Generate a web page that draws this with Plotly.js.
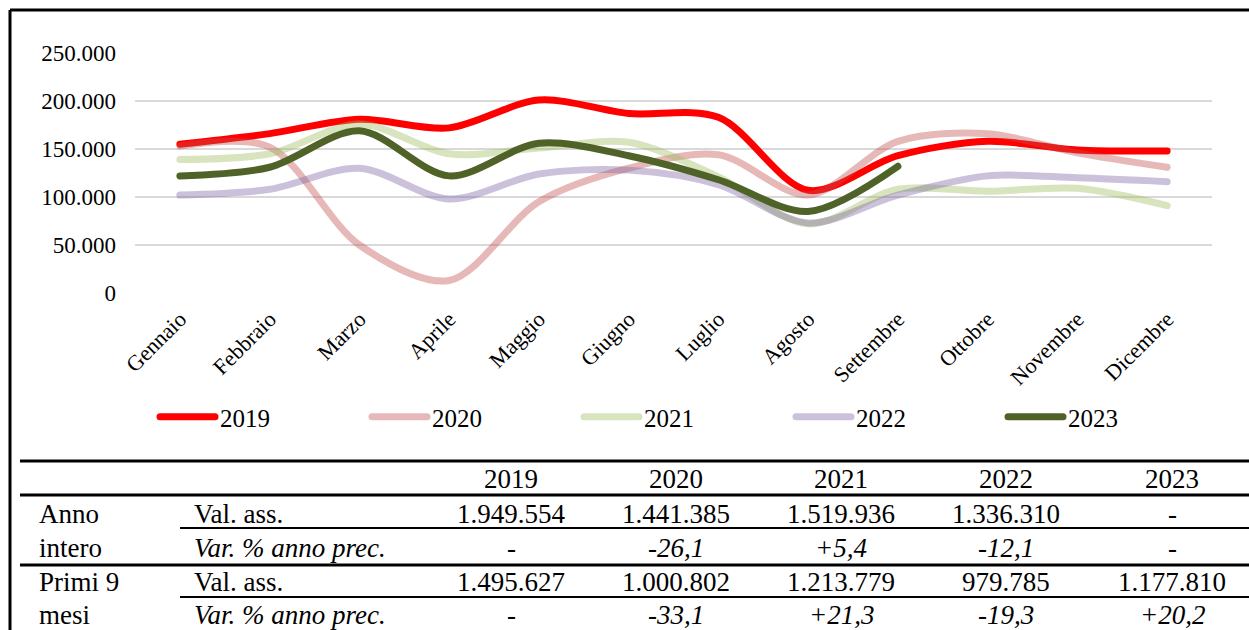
<!DOCTYPE html>
<html><head><meta charset="utf-8">
<script src="https://cdn.plot.ly/plotly-3.0.1.min.js"></script>
<style>
html,body{margin:0;padding:0;background:#fff;}
#chart{width:1249px;height:630px;}
.scatterlayer path.js-line{stroke-linecap:round;stroke-linejoin:round;}
.legendlines path{stroke-linecap:round;}
</style></head><body><div id="chart"></div><script>
// ---- data ----
const months = ['Gennaio','Febbraio','Marzo','Aprile','Maggio','Giugno','Luglio','Agosto','Settembre','Ottobre','Novembre','Dicembre'];
const y2019 = [155000,166000,181000,172000,201000,187000,183000,107000,143000,158000,149000,148000];
const y2020 = [153000,152000,50000,13000,95000,130000,144000,102000,158000,166000,146000,131000];
const y2021 = [139000,145000,176000,145000,151000,157000,121000,72000,108000,106000,109000,91000];
const y2022 = [102000,108000,130000,98000,124000,128000,113000,73000,102000,122000,120000,116000];
const y2023 = [122000,131000,169000,122000,156000,143000,118000,85000,132000];
const seriesNames = ['2019','2020','2021','2022','2023'];
const yTicks = [0,50000,100000,150000,200000,250000];

// table
const tableYears = ['2019','2020','2021','2022','2023'];
const annoValAss = ['1.949.554','1.441.385','1.519.936','1.336.310','-'];
const annoVar = ['-','-26,1','+5,4','-12,1','-'];
const primiValAss = ['1.495.627','1.000.802','1.213.779','979.785','1.177.810'];
const primiVar = ['-','-33,1','+21,3','-19,3','+20,2'];
const groupLabels = [['Anno','intero'],['Primi 9','mesi']];
const rowLabels = ['Val. ass.','Var. % anno prec.'];

// ---- layout helpers (pixel -> paper) ----
const W = 1249, H = 630;
const M = {l:135, r:37, t:53, b:337};
const PW = W - M.l - M.r, PH = H - M.t - M.b;
const px = x => (x - M.l) / PW;
const py = y => (H - M.b - y) / PH;
const FONT = 'Liberation Serif, Times New Roman, serif';

const colors = ['#FF0000','rgba(192,80,77,0.4)','rgba(155,187,89,0.4)','rgba(128,100,162,0.4)','#4F6228'];
const allY = [y2019,y2020,y2021,y2022,y2023];
const traces = allY.map((ys,i)=>({
  type:'scatter', mode:'lines', name:seriesNames[i],
  x: months.slice(0, ys.length), y: ys,
  line:{color:colors[i], width:7, shape:'spline', smoothing:0.9},
  hoverinfo:'x+y+name'
}));

const shapes = [];
const annotations = [];
// outer frame (top + left)
shapes.push({type:'line',xref:'paper',yref:'paper',x0:px(10),x1:px(1252),y0:py(10),y1:py(10),line:{color:'#000',width:3}});
shapes.push({type:'line',xref:'paper',yref:'paper',x0:px(10),x1:px(10),y0:py(10),y1:py(633),line:{color:'#000',width:3}});
// table rules
[461,495,565].forEach(y=>shapes.push({type:'line',xref:'paper',yref:'paper',x0:px(20),x1:px(1252),y0:py(y),y1:py(y),line:{color:'#000',width:3}}));
[528,597].forEach(y=>shapes.push({type:'line',xref:'paper',yref:'paper',x0:px(180),x1:px(1252),y0:py(y),y1:py(y),line:{color:'#000',width:2}}));

const colX = [511,676,841,1006,1172];
const rowY = {head:479, r1:514, r2:548, r3:582, r4:615};
function txt(t, x, y, opt={}){
  annotations.push(Object.assign({text:t, xref:'paper', yref:'paper', x:px(x), y:py(y),
    xanchor:'center', yanchor:'middle', showarrow:false,
    font:{family:FONT, size:27, color:'#000'}}, opt));
}
tableYears.forEach((t,i)=>txt(t, colX[i], rowY.head));
annoValAss.forEach((t,i)=>txt(t, colX[i], rowY.r1));
annoVar.forEach((t,i)=>txt('<i>'+t+'</i>', colX[i], rowY.r2));
primiValAss.forEach((t,i)=>txt(t, colX[i], rowY.r3));
primiVar.forEach((t,i)=>txt('<i>'+t+'</i>', colX[i], rowY.r4));
txt(groupLabels[0][0], 37, rowY.r1, {xanchor:'left'});
txt(groupLabels[0][1], 37, rowY.r2, {xanchor:'left'});
txt(groupLabels[1][0], 37, rowY.r3, {xanchor:'left'});
txt(groupLabels[1][1], 37, rowY.r4, {xanchor:'left'});
txt(rowLabels[0], 192, rowY.r1, {xanchor:'left'});
txt('<i>'+rowLabels[1]+'</i>', 192, rowY.r2, {xanchor:'left'});
txt(rowLabels[0], 192, rowY.r3, {xanchor:'left'});
txt('<i>'+rowLabels[1]+'</i>', 192, rowY.r4, {xanchor:'left'});

const layout = {
  width:W, height:H,
  margin:M,
  paper_bgcolor:'#fff', plot_bgcolor:'#fff',
  separators:',.',
  font:{family:FONT, color:'#000'},
  showlegend:true,
  legend:{orientation:'h', x:px(155), y:py(417), xanchor:'left', yanchor:'middle',
    font:{family:FONT, size:25, color:'#000'}, entrywidth:142, entrywidthmode:'pixels',
    itemwidth:55, tracegroupgap:0, bgcolor:'rgba(0,0,0,0)'},
  xaxis:{type:'category', categoryarray:months, range:[-0.5,11.5], showgrid:false, zeroline:false,
    showline:false, ticks:'', tickangle:-45, ticklabelstandoff:8,
    tickfont:{family:FONT, size:22, color:'#000'}, automargin:false, fixedrange:true},
  yaxis:{range:[0,250000], tickvals:yTicks, tickformat:',d', showgrid:true, gridcolor:'#D9D9D9', gridwidth:2,
    zeroline:false, showline:false, ticks:'', ticklabelstandoff:18,
    tickfont:{family:FONT, size:23, color:'#000'}, automargin:false, fixedrange:true},
  shapes:shapes, annotations:annotations
};
Plotly.newPlot('chart', traces, layout, {displayModeBar:false});
</script></body></html>
